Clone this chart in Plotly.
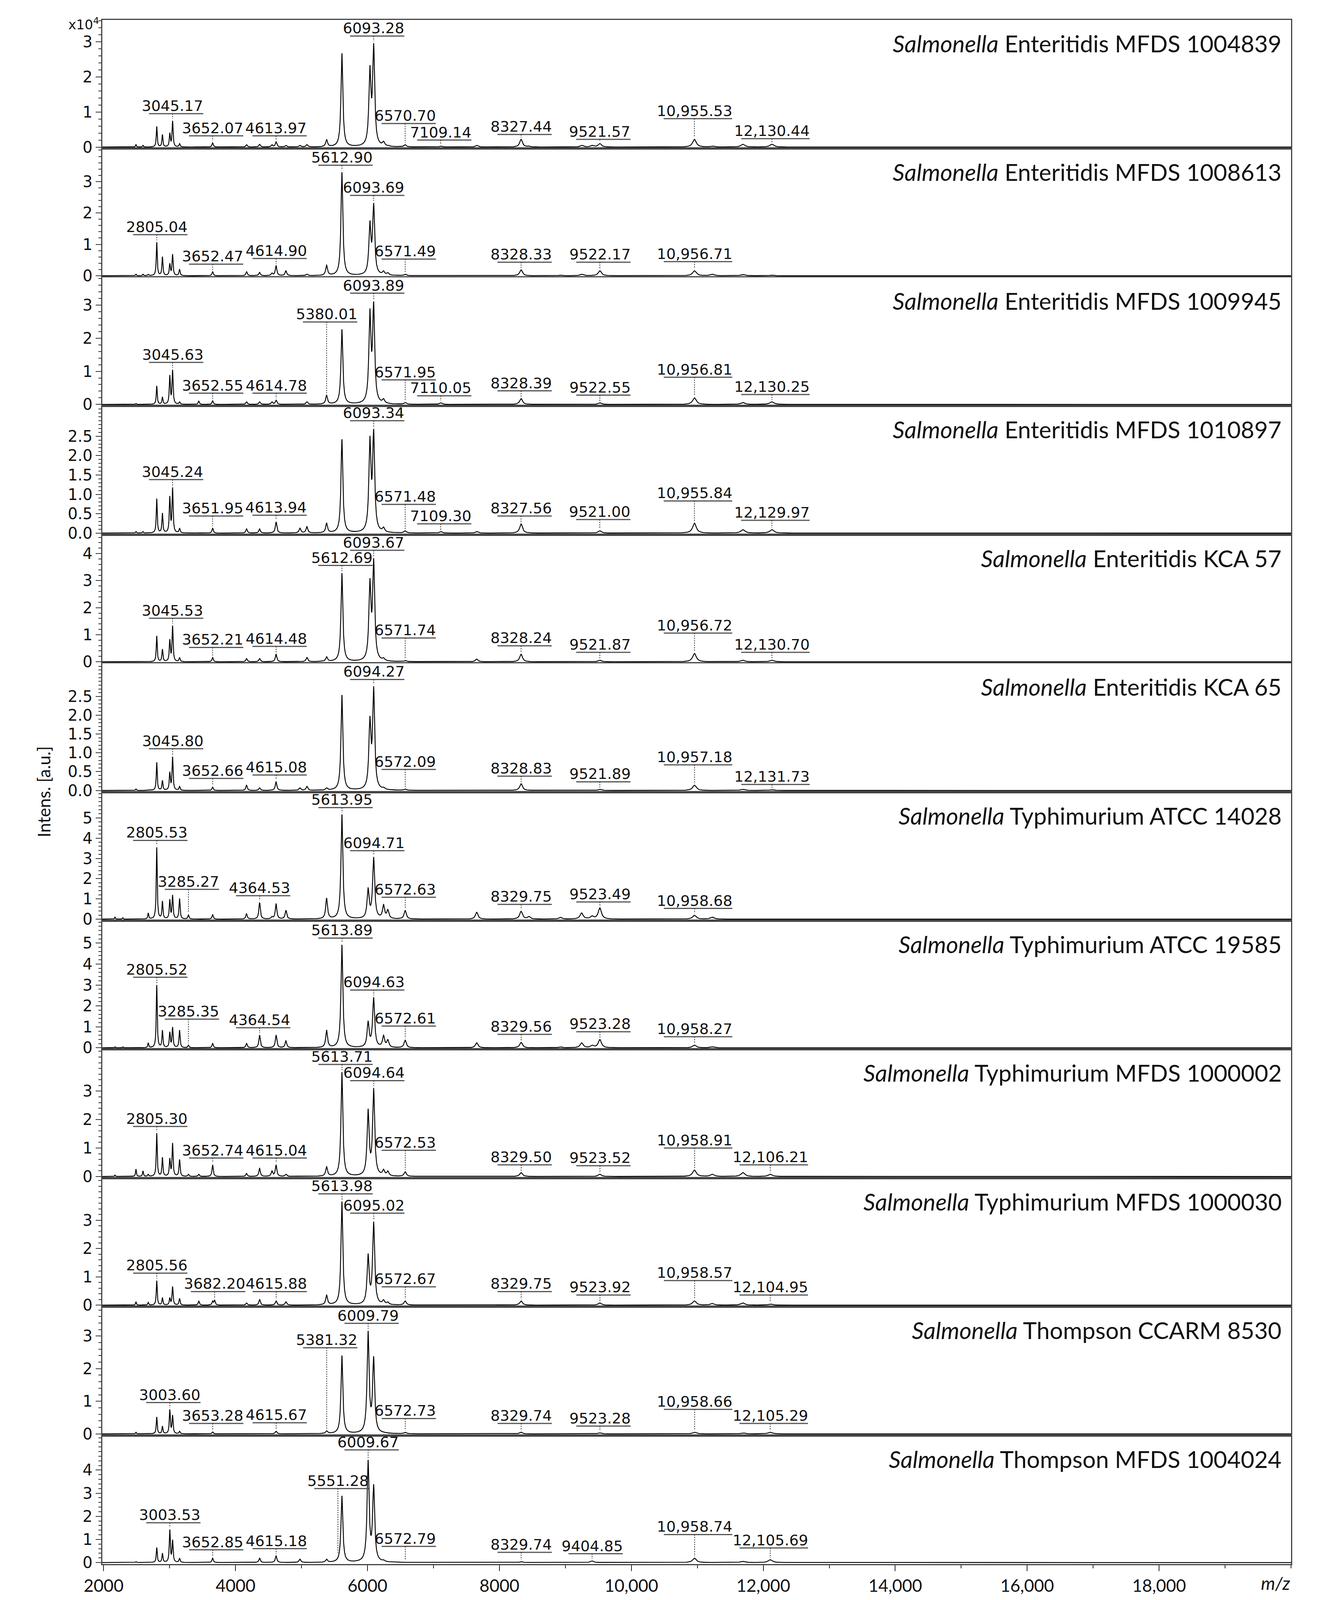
import numpy as np
import plotly.graph_objects as go
from plotly.subplots import make_subplots

# ---------------- data ----------------
STRAINS = ["Enteritidis MFDS 1004839", "Enteritidis MFDS 1008613", "Enteritidis MFDS 1009945",
           "Enteritidis MFDS 1010897", "Enteritidis KCA 57", "Enteritidis KCA 65",
           "Typhimurium ATCC 14028", "Typhimurium ATCC 19585", "Typhimurium MFDS 1000002",
           "Typhimurium MFDS 1000030", "Thompson CCARM 8530", "Thompson MFDS 1004024"]

# peak positions (m/z) shared by all spectra
PEAK_MZ = [2172, 2290, 2490, 2596, 2676, 2805, 2891, 3003, 3045, 3151,
           3285, 3442, 3652, 3682, 4166, 4364, 4551, 4614, 4763, 4975,
           5081, 5380, 5477, 5551, 5612, 5846, 6009, 6036, 6093, 6243,
           6308, 6571, 7110, 7655, 8328, 8448, 8925, 9246, 9404, 9522,
           10956, 11227, 11690, 12105, 12130]

# peak intensities (x10^4 a.u.) per spectrum, aligned with PEAK_MZ
H1 = [0, 0, 0.07, 0.05, 0, 0.59, 0.36, 0.41, 0.75, 0.10,
      0, 0, 0.12, 0, 0.07, 0.08, 0.07, 0.15, 0.05, 0.05,
      0.07, 0.22, 0.05, 0, 2.67, 0.05, 0, 2.33, 2.96, 0.17,
      0.05, 0.07, 0.03, 0.05, 0.22, 0.03, 0, 0.05, 0.05, 0.10,
      0.22, 0.03, 0.08, 0, 0.08]
H2 = [0, 0, 0.05, 0.05, 0.05, 1.07, 0.61, 0.40, 0.69, 0.21,
      0, 0, 0.13, 0, 0.13, 0.11, 0.09, 0.32, 0.16, 0,
      0.05, 0.34, 0, 0, 3.30, 0, 0, 1.76, 2.32, 0.16,
      0.10, 0.05, 0, 0, 0.19, 0, 0.02, 0.05, 0, 0.16,
      0.16, 0.05, 0.04, 0, 0.02]
H3 = [0, 0, 0.03, 0, 0, 0.56, 0.23, 0.89, 1.05, 0.08,
      0, 0.10, 0.11, 0, 0.08, 0.08, 0.08, 0.13, 0, 0,
      0.08, 0.28, 0, 0, 2.27, 0, 0, 2.90, 3.11, 0.18,
      0, 0.06, 0.05, 0, 0.18, 0, 0, 0, 0, 0.05,
      0.20, 0, 0.06, 0, 0.08]
H4 = [0, 0, 0.04, 0.04, 0, 0.89, 0.52, 0.96, 1.18, 0.13,
      0, 0, 0.13, 0, 0.11, 0.11, 0, 0.29, 0, 0.13,
      0.17, 0.26, 0, 0, 2.42, 0, 0, 2.51, 2.69, 0.16,
      0, 0.06, 0.04, 0.04, 0.24, 0, 0, 0, 0, 0.06,
      0.26, 0, 0.09, 0, 0.09]
H5 = [0, 0, 0, 0, 0, 0.96, 0.47, 0.84, 1.34, 0.16,
      0, 0, 0.16, 0, 0.12, 0.12, 0, 0.28, 0, 0,
      0.16, 0.19, 0, 0, 3.28, 0, 0, 3.09, 3.83, 0.16,
      0, 0.05, 0, 0.10, 0.28, 0, 0, 0, 0, 0.06,
      0.31, 0, 0.06, 0, 0.06]
H6 = [0, 0, 0.04, 0, 0, 0.75, 0.27, 0.50, 0.90, 0.11,
      0, 0, 0.09, 0, 0.14, 0.07, 0, 0.23, 0, 0.07,
      0.11, 0.07, 0, 0, 2.54, 0, 0, 1.98, 2.77, 0.09,
      0, 0.04, 0, 0, 0.18, 0, 0, 0, 0, 0.03,
      0.14, 0, 0.03, 0, 0.02]
H7 = [0.10, 0.07, 0, 0, 0.31, 3.55, 0.90, 0.99, 1.20, 1.02,
      0.22, 0, 0.22, 0, 0.27, 0.82, 0.14, 0.77, 0.44, 0,
      0, 1.04, 0, 0, 5.17, 0, 1.55, 0, 3.07, 0.73,
      0.48, 0.43, 0, 0.34, 0.39, 0.14, 0.09, 0.31, 0.17, 0.56,
      0.19, 0.10, 0, 0, 0]
H8 = [0.05, 0.05, 0, 0, 0.24, 3.00, 0.85, 0.77, 1.00, 0.85,
      0.13, 0, 0.21, 0, 0.21, 0.61, 0, 0.61, 0.34, 0,
      0, 0.85, 0, 0, 4.92, 0, 1.28, 0, 2.41, 0.61,
      0.40, 0.37, 0, 0.24, 0.26, 0, 0.05, 0.24, 0.13, 0.40,
      0.13, 0.05, 0, 0, 0]
H9 = [0.05, 0, 0.26, 0.20, 0.08, 1.52, 0.68, 0.65, 1.18, 0.60,
      0.08, 0.08, 0.41, 0, 0.11, 0.29, 0.20, 0.41, 0.08, 0,
      0, 0.35, 0, 0, 3.67, 0, 2.38, 0, 3.11, 0.26,
      0.20, 0.17, 0, 0, 0.14, 0, 0, 0, 0, 0.08,
      0.23, 0.08, 0.14, 0.08, 0]
H10 = [0, 0, 0.12, 0, 0.10, 0.87, 0.27, 0.27, 0.66, 0.24,
       0, 0.15, 0.15, 0.18, 0.08, 0.20, 0, 0.15, 0.12, 0,
       0, 0.36, 0, 0, 3.66, 0, 1.82, 0, 2.95, 0.20,
       0.12, 0.15, 0, 0, 0.15, 0, 0, 0, 0, 0.08,
       0.15, 0.06, 0.08, 0.04, 0]
H11 = [0, 0, 0.05, 0, 0, 0.52, 0.24, 0.75, 0.58, 0.08,
       0, 0, 0.06, 0, 0, 0, 0, 0.08, 0, 0,
       0, 0.10, 0, 0, 2.40, 0, 3.16, 0, 2.38, 0.06,
       0, 0.05, 0, 0, 0.05, 0, 0, 0, 0, 0.03,
       0.05, 0, 0.03, 0.05, 0]
H12 = [0, 0, 0.04, 0, 0, 0.65, 0.41, 1.43, 0.99, 0.19,
       0, 0, 0.19, 0, 0, 0.19, 0, 0.29, 0, 0.15,
       0, 0.15, 0, 0.10, 2.88, 0, 4.44, 0, 3.39, 0.12,
       0, 0, 0, 0, 0.04, 0, 0, 0, 0.07, 0,
       0.19, 0, 0.05, 0.12, 0]

# y-axis top (x10^4) and tick layout of each panel
Y_TOP = [3.62, 4.05, 3.84, 3.28, 4.70, 3.38, 6.28, 6.07, 4.47, 4.49, 3.90, 5.50]
Y_TICK_MAX = [3, 3, 3, 2.5, 4, 2.5, 5, 5, 3, 3, 3, 4]
Y_STEP = [1, 1, 1, 0.5, 1, 0.5, 1, 1, 1, 1, 1, 1]

# labelled peaks (text) and label heights (x10^4)
L1 = ["3045.17", "3652.07", "4613.97", "6093.28", "6570.70", "7109.14", "8327.44", "9521.57", "10,955.53", "12,130.44"]
Y1 = [0.95, 0.32, 0.32, 3.16, 0.67, 0.20, 0.36, 0.22, 0.81, 0.24]
L2 = ["2805.04", "3652.47", "4614.90", "5612.90", "6093.69", "6571.49", "8328.33", "9522.17", "10,956.71"]
Y2 = [1.31, 0.37, 0.55, 3.52, 2.56, 0.53, 0.43, 0.43, 0.45]
L3 = ["3045.63", "3652.55", "4614.78", "5380.01", "6093.89", "6571.95", "7110.05", "8328.39", "9522.55", "10,956.81", "12,130.25"]
Y3 = [1.27, 0.34, 0.34, 2.49, 3.36, 0.74, 0.26, 0.41, 0.28, 0.82, 0.30]
L4 = ["3045.24", "3651.95", "4613.94", "6093.34", "6571.48", "7109.30", "8327.56", "9521.00", "10,955.84", "12,129.97"]
Y4 = [1.38, 0.44, 0.46, 2.90, 0.74, 0.24, 0.44, 0.35, 0.83, 0.33]
L5 = ["3045.53", "3652.21", "4614.48", "5612.69", "6093.67", "6571.74", "8328.24", "9521.87", "10,956.72", "12,130.70"]
Y5 = [1.61, 0.53, 0.57, 3.56, 4.12, 0.88, 0.59, 0.35, 1.06, 0.35]
L6 = ["3045.80", "3652.66", "4615.08", "6094.27", "6572.09", "8328.83", "9521.89", "10,957.18", "12,131.73"]
Y6 = [1.11, 0.32, 0.41, 2.95, 0.56, 0.38, 0.23, 0.68, 0.16]
L7 = ["2805.53", "3285.27", "4364.53", "5613.95", "6094.71", "6572.63", "8329.75", "9523.49", "10,958.68"]
Y7 = [3.89, 1.47, 1.16, 5.51, 3.38, 1.08, 0.73, 0.85, 0.53]
L8 = ["2805.52", "3285.35", "4364.54", "5613.89", "6094.63", "6572.61", "8329.56", "9523.28", "10,958.27"]
Y8 = [3.37, 1.37, 0.96, 5.24, 2.76, 1.04, 0.64, 0.77, 0.53]
L9 = ["2805.30", "3652.74", "4615.04", "5613.71", "6094.64", "6572.53", "8329.50", "9523.52", "10,958.91", "12,106.21"]
Y9 = [1.76, 0.65, 0.65, 3.94, 3.37, 0.92, 0.41, 0.38, 1.00, 0.41]
L10 = ["2805.56", "3682.20", "4615.88", "5613.98", "6095.02", "6572.67", "8329.75", "9523.92", "10,958.57", "12,104.95"]
Y10 = [1.13, 0.48, 0.48, 3.93, 3.25, 0.65, 0.48, 0.36, 0.87, 0.36]
L11 = ["3003.60", "3653.28", "4615.67", "5381.32", "6009.79", "6572.73", "8329.74", "9523.28", "10,958.66", "12,105.29"]
Y11 = [0.96, 0.32, 0.34, 2.64, 3.39, 0.47, 0.32, 0.24, 0.75, 0.32]
L12 = ["3003.53", "3652.85", "4615.18", "5551.28", "6009.67", "6572.79", "8329.74", "9404.85", "10,958.74", "12,105.69"]
Y12 = [1.72, 0.55, 0.60, 3.20, 4.87, 0.70, 0.44, 0.38, 1.21, 0.63]

X_TICKS = [2000, 4000, 6000, 8000, 10000, 12000, 14000, 16000, 18000]
X_TICK_TEXT = ["2000", "4000", "6000", "8000", "10,000", "12,000", "14,000", "16,000", "18,000"]
X_RANGE = [1980, 20000]

HEIGHTS = [H1, H2, H3, H4, H5, H6, H7, H8, H9, H10, H11, H12]
LABELS = [L1, L2, L3, L4, L5, L6, L7, L8, L9, L10, L11, L12]
LABEL_Y = [Y1, Y2, Y3, Y4, Y5, Y6, Y7, Y8, Y9, Y10, Y11, Y12]

# ---------------- style / layout ----------------
W, H = 3416, 5457
ML, MR, MT, MB = 262, 110, 68, 117
PLOT_W = W - ML - MR
DA_PER_PX = (X_RANGE[1] - X_RANGE[0]) / PLOT_W
WIDTH_FRAC = 0.003           # Lorentzian half-width as a fraction of m/z
LABEL_FS = 38
FRAME = "#444444"

grid = np.unique(np.concatenate([np.arange(X_RANGE[0], 13000, 1.0),
                                 np.arange(13000, X_RANGE[1] + 1, 20.0),
                                 np.array(PEAK_MZ, float)]))


def spectrum(heights):
    mz = np.array(PEAK_MZ, float)
    h = np.array(heights, float)
    keep = h > 0
    mz, h = mz[keep], h[keep]
    w = WIDTH_FRAC * mz
    A = 1.0 / (1.0 + ((mz[:, None] - mz[None, :]) / w[None, :]) ** 2)
    amp = np.clip(np.linalg.solve(A, h), 0, None)
    y = np.zeros_like(grid)
    for m, a, ww in zip(mz, amp, w):
        y += a / (1.0 + ((grid - m) / ww) ** 2)
    return y


def text_px(s, fs=LABEL_FS):
    return fs * sum(0.636 if c.isdigit() else 0.318 for c in s)


fig = make_subplots(rows=12, cols=1, shared_xaxes=True, vertical_spacing=0)

shapes = []
annotations = []
for k in range(12):
    row = k + 1
    xr = "x" if k == 0 else f"x{row}"
    yr = "y" if k == 0 else f"y{row}"
    y = spectrum(HEIGHTS[k])
    fig.add_trace(go.Scatter(x=grid, y=y, mode="lines", line=dict(color="black", width=2.3),
                             showlegend=False, hoverinfo="skip"), row=row, col=1)

    ytop = Y_TOP[k]
    step = Y_STEP[k]
    tv = list(np.round(np.arange(0, Y_TICK_MAX[k] + 1e-9, step), 3))
    tt = [f"{v:.1f}" if step < 1 else f"{int(v)}" for v in tv]
    fig.update_yaxes(range=[-0.012 * ytop, ytop], tickvals=tv, ticktext=tt,
                     ticks="outside", ticklen=14, tickwidth=2, tickcolor="#333",
                     showline=True, linecolor=FRAME, linewidth=3, mirror=True,
                     showgrid=False, zeroline=False,
                     tickfont=dict(family="DejaVu Sans", size=40, color="#111"),
                     minor=dict(dtick=step / 5, tick0=0, ticks="outside", ticklen=7,
                                tickwidth=2, tickcolor="#333", showgrid=False),
                     row=row, col=1)

    # peak labels
    for lab, ly in zip(LABELS[k], LABEL_Y[k]):
        mzv = float(lab.replace(",", ""))
        win = (grid > mzv - 15) & (grid < mzv + 15)
        ptop = float(y[win].max())
        wda = text_px(lab) * DA_PER_PX
        annotations.append(dict(x=mzv, y=ly, xref=xr, yref=yr, text=lab, showarrow=False,
                                xanchor="center", yanchor="bottom", yshift=-3, borderpad=0,
                                font=dict(family="DejaVu Sans", size=LABEL_FS, color="#111")))
        shapes.append(dict(type="line", xref=xr, yref=yr,
                           x0=mzv - wda / 2 + 18 * DA_PER_PX, x1=mzv + wda / 2,
                           y0=ly, y1=ly, line=dict(color="#555", width=3)))
        shapes.append(dict(type="line", xref=xr, yref=yr, x0=mzv, x1=mzv,
                           y0=ly, y1=ptop + 0.015 * ytop,
                           line=dict(color="#333", width=2, dash="dot")))

    # strain name
    annotations.append(dict(x=1, y=1, xref="paper", yref=f"{yr} domain",
                            text=f"<i>Salmonella</i> {STRAINS[k]}", showarrow=False,
                            xanchor="right", yanchor="top", xshift=-22, yshift=-22,
                            font=dict(family="Lato", size=60, color="#111")))

fig.update_xaxes(range=X_RANGE, showline=True, linecolor=FRAME, linewidth=3, mirror=True,
                 showgrid=False, zeroline=False, ticks="", showticklabels=False)
fig.update_xaxes(row=12, col=1, ticks="outside", ticklen=15, tickwidth=2, tickcolor="#222",
                 tickvals=X_TICKS, ticktext=X_TICK_TEXT, showticklabels=True,
                 tickfont=dict(family="Lato", size=44, color="#111"),
                 minor=dict(dtick=1000, tick0=0, ticks="outside", ticklen=8, tickwidth=2,
                            tickcolor="#222", showgrid=False))

annotations.append(dict(x=0, y=1, xref="paper", yref="y domain", text="x10<sup>4</sup>",
                        showarrow=False, xanchor="right", yanchor="top", xshift=-6, yshift=14,
                        font=dict(family="DejaVu Sans", size=34, color="#111")))
annotations.append(dict(x=(111 - ML) / PLOT_W, y=0.5, xref="paper", yref="paper",
                        text="Intens. [a.u.]", textangle=-90, showarrow=False,
                        xanchor="center", yanchor="middle",
                        font=dict(family="Lato", size=44, color="#111")))
annotations.append(dict(x=1, y=0, xref="paper", yref="paper", text="<i>m/z</i>",
                        showarrow=False, xanchor="right", yanchor="middle", yshift=-48,
                        font=dict(family="Lato", size=46, color="#111")))

fig.update_layout(width=W, height=H, margin=dict(l=ML, r=MR, t=MT, b=MB),
                  paper_bgcolor="white", plot_bgcolor="white",
                  shapes=shapes, annotations=annotations, showlegend=False)

# fit the figure to the actual browser viewport (keeps the designed size when it is 3416x5457)
FIT_JS = """
document.body.style.margin = '0';
document.documentElement.style.overflow = 'hidden';
var gd = document.getElementById('{plot_id}');
var vw = window.innerWidth, vh = window.innerHeight;
if (vw > 500 && vh > 500 && (vw !== %d || vh !== %d)) {
  var sy = vh / %d, sx = vw / %d;
  Plotly.relayout(gd, {width: vw, height: vh,
    'margin.t': Math.round(%d * sy), 'margin.b': Math.round(%d * sy),
    'margin.l': Math.round(%d * sx), 'margin.r': Math.round(%d * sx)});
}
""" % (W, H, H, W, MT, MB, ML, MR)

fig.write_html("out.html", config={"displayModeBar": False}, post_script=FIT_JS)
